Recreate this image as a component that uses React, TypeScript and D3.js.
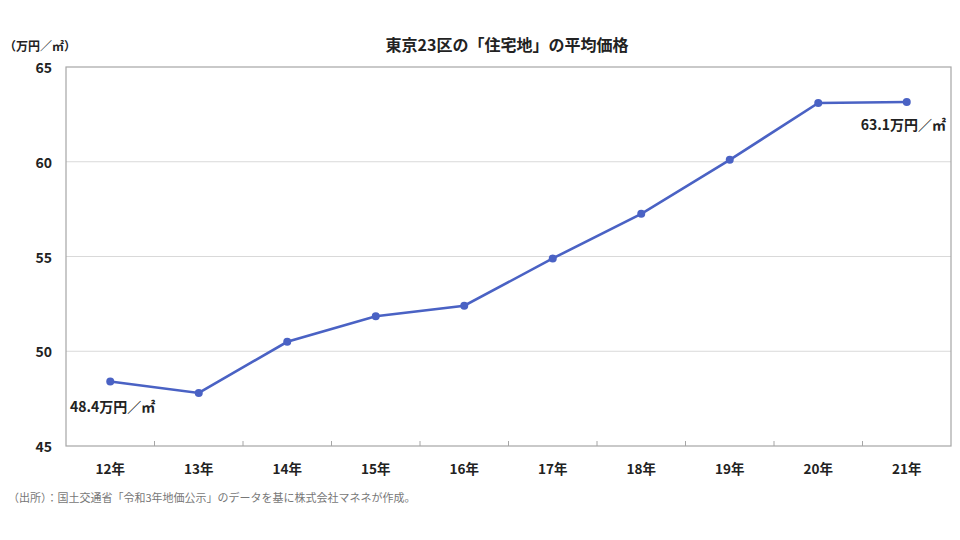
import React from "react";
import * as d3 from "d3";

const categories = ["12年", "13年", "14年", "15年", "16年", "17年", "18年", "19年", "20年", "21年"];
const prices = [48.4, 47.8, 50.5, 51.85, 52.4, 54.9, 57.25, 60.1, 63.1, 63.15];
const yTicks = [45, 50, 55, 60, 65];
const title = "東京23区の「住宅地」の平均価格";
const unitLabel = "（万円／㎡）";
const firstLabel = "48.4万円／㎡";
const lastLabel = "63.1万円／㎡";
const source = "（出所）：国土交通省「令和3年地価公示」のデータを基に株式会社マネネが作成。";

const W = 960;
const H = 540;
const m = { left: 66, top: 67, right: 951, bottom: 446 };
const FONT = "'Noto Sans CJK JP', 'Noto Sans', sans-serif";
const LINE = "#4a62c4";

export default function App() {
  const x = d3.scaleBand<string>().domain(categories).range([m.left, m.right]);
  const y = d3.scaleLinear().domain([45, 65]).range([m.bottom, m.top]);
  const cx = (c: string) => (x(c) as number) + x.bandwidth() / 2;
  const line = d3
    .line<number>()
    .x((_, i) => cx(categories[i]))
    .y((d) => y(d));
  const boundaries = categories.slice(1).map((c) => x(c) as number);

  return (
    <svg width={W} height={H} style={{ position: "absolute", left: 0, top: 0, background: "#fff" }} fontFamily={FONT}>
      <rect x={0} y={0} width={W} height={H} fill="#fff" />
      <text x={507} y={51} textAnchor="middle" fontSize={16} fontWeight={700} fill="#222">
        {title}
      </text>
      <text x={4} y={51} fontSize={12} fontWeight={700} fill="#222">
        {unitLabel}
      </text>
      {yTicks.map((t) => (
        <g key={t}>
          {t > 45 && t < 65 && (
            <line x1={m.left} x2={m.right} y1={y(t)} y2={y(t)} stroke="#d9d9d9" strokeWidth={1} />
          )}
          <text x={52} y={y(t) + 1} dy="0.36em" textAnchor="end" fontSize={14} fontWeight={700} fill="#222">
            {t}
          </text>
        </g>
      ))}
      <rect x={m.left} y={m.top} width={m.right - m.left} height={m.bottom - m.top} fill="none" stroke="#a6a6a6" strokeWidth={1.2} />
      {boundaries.map((b, i) => (
        <line key={i} x1={b} x2={b} y1={m.bottom} y2={m.bottom - 5} stroke="#a6a6a6" strokeWidth={1} />
      ))}
      {categories.map((c) => (
        <text key={c} x={cx(c)} y={474} textAnchor="middle" fontSize={13.5} fontWeight={700} fill="#222">
          {c}
        </text>
      ))}
      <path d={line(prices) || ""} fill="none" stroke={LINE} strokeWidth={2.6} />
      {prices.map((p, i) => (
        <circle key={i} cx={cx(categories[i])} cy={y(p)} r={4} fill={LINE} />
      ))}
      <text x={70} y={412} fontSize={14} fontWeight={700} fill="#222">
        {firstLabel}
      </text>
      <text x={946} y={130} textAnchor="end" fontSize={14} fontWeight={700} fill="#222">
        {lastLabel}
      </text>
      <text x={8} y={502} fontSize={11} fill="#777">
        {source}
      </text>
    </svg>
  );
}
